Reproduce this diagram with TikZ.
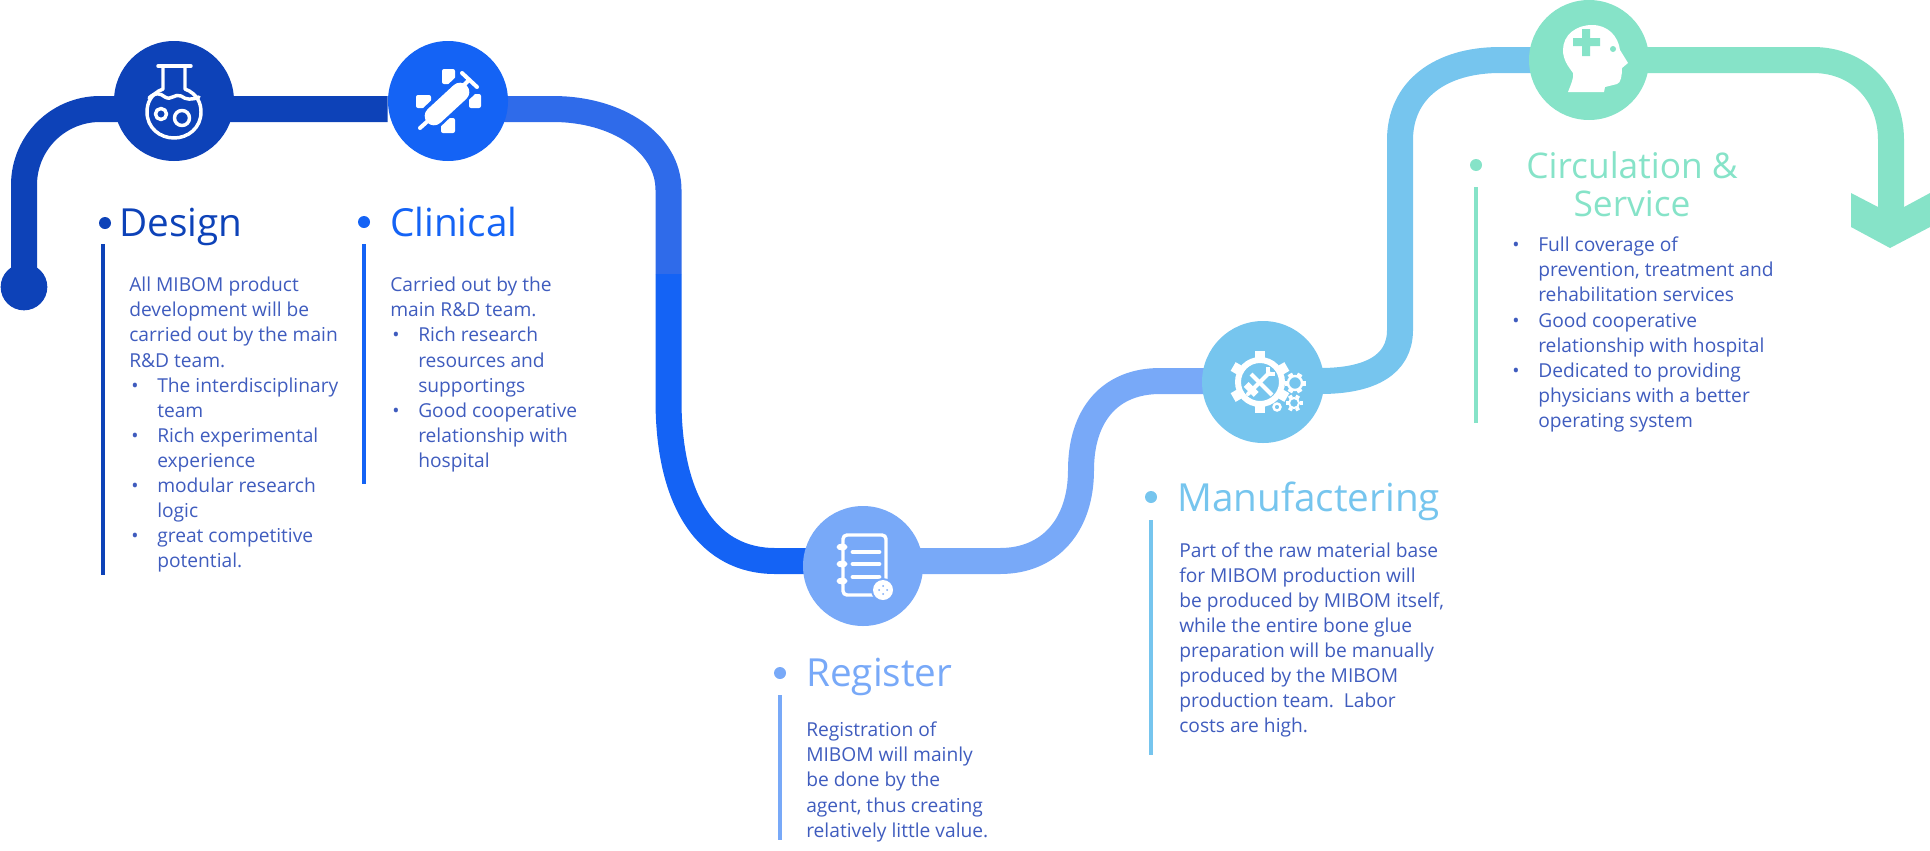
\documentclass[tikz,border=0pt]{standalone}
\usepackage{fontspec}
\setmainfont{Open Sans}
\usetikzlibrary{backgrounds}
\definecolor{cDesign}{HTML}{0D42B8}
\definecolor{cClin}{HTML}{1463F5}
\definecolor{cClinB}{HTML}{2F6BEA}
\definecolor{cReg}{HTML}{78A9F8}
\definecolor{cMan}{HTML}{76C5EE}
\definecolor{cCirc}{HTML}{86E3C8}
\definecolor{cBody}{HTML}{3F5CBE}
\newcommand\bitem[1]{\hspace*{1.5pt}\makebox[19.5pt][l]{\textbullet}#1}
\newcommand\bcont[1]{\hspace*{21pt}#1}
\newcommand\gearshape[3]{% r outer, hole, tooth halfwidth
  \fill[white,even odd rule] (0,0) circle (#1) (0,0) circle (#2);
  \foreach \a in {30,90,...,330}{\fill[white,rotate=\a] (#1-1,-#3) rectangle (#1+6,#3);}
}
\tikzset{
  x=0.75pt,y=-0.75pt,
  hub/.style={circle,minimum size=90pt,inner sep=0pt,fill=#1},
  band/.style={line width=19.5pt,#1,line cap=butt,line join=round},
  title/.style={font=\fontsize{29}{34}\selectfont,text=#1,inner sep=0pt,anchor=base west},
  dotn/.style={circle,minimum size=9pt,inner sep=0pt,fill=#1},
  body/.style={font=\fontsize{14.4}{18.8}\selectfont,text=cBody,inner sep=0pt,anchor=north west,align=left},
  bar/.style={line width=3pt,#1},
  ic/.style={white,line width=2.6pt,line cap=round,line join=round},
}
\begin{document}
\begin{tikzpicture}
\useasboundingbox (0,0) rectangle (1930,850);
% hubs
\node[hub=cDesign] (design) at (174,101) {};
\node[hub=cClin] (clinical) at (448,101) {};
\node[hub=cReg] (register) at (863,566) {};
\node[hub=cMan,minimum size=91.5pt] (manuf) at (1263,382) {};
\node[hub=cCirc] (circ) at (1589,60) {};
\node[circle,minimum size=35pt,inner sep=0pt,fill=cDesign] (start) at (24,287) {};
\coordinate (split) at (668.5,274);
\coordinate (tip) at (1891,212);
\coordinate (lvlA) at (0,109);
\coordinate (lvlB) at (0,561);
\coordinate (lvlC) at (0,381);
\coordinate (lvlD) at (0,60);
% connectors
\begin{pgfonlayer}{background}
\draw[band=cDesign] (start.center) -- (24,185) .. controls (24,143) and (58,109) .. (100,109) -- (clinical.west |- lvlA);
\draw[band=cClinB] (clinical.center |- lvlA) -- (553,109) .. controls (617,109) and (668.5,143) .. (668.5,190) -- (split);
\draw[band=cClin] (split) -- (668.5,400) .. controls (668.5,505) and (710,561) .. (775,561) -- (register.center |- lvlB);
\draw[band=cReg] (register.center |- lvlB) -- (1000,561) .. controls (1050,561) and (1081,525) .. (1081,470) .. controls (1081,415) and (1110,381) .. (1160,381) -- (manuf.center |- lvlC);
\draw[band=cMan] (manuf.center |- lvlC) -- (1320,381) .. controls (1370,381) and (1400,365) .. (1400,330) -- (1400,140) .. controls (1400,90) and (1440,60) .. (1500,60) -- (circ.center |- lvlD);
\draw[band=cCirc] (circ.center |- lvlD) -- (1813,60) .. controls (1860,60) and (1891,95) .. (1891,140) -- (tip);
\end{pgfonlayer}
\fill[cCirc] (1851,193) -- (1878,207) -- (1904,207) -- (1930,193) -- (1930,227) -- (1890,248) -- (1851,227) -- cycle;
% flask icon
\begin{scope}
\draw[ic] (158,66) -- (191,66);
\draw[ic] (163,66) -- (163,89) .. controls (150,94) and (147,104) .. (147,112) .. controls (147,128) and (160,138) .. (174,138) .. controls (188,138) and (201,128) .. (201,112) .. controls (201,104) and (198,94) .. (185,89) -- (185,66);
\draw[ic] (149,98) .. controls (155,92) and (160,93) .. (165,97) .. controls (171,101) and (175,93) .. (181,96) .. controls (186,100) and (192,100) .. (199,97);
\draw[ic] (161,114) circle (5.5);
\draw[ic] (182,118) circle (7.5);
\end{scope}
% syringe and cross icon
\begin{scope}
\fill[white,rounded corners=1.5pt] (442,69) rectangle (455,84) (416,95) rectangle (431,108) (469,94) rectangle (481,108) (441,118) rectangle (455,133);
\draw[cClin,line width=19pt] (466,85) -- (428,121);
\draw[white,line width=14pt,line cap=round] (460,92) -- (434,116);
\draw[white,line width=3pt,line cap=round] (430,119) -- (420,128);
\draw[white,line width=3pt,line cap=round] (469,80) -- (464,85) (462,73) -- (477,87);
\end{scope}
% notebook icon
\begin{scope}
\draw[ic,rounded corners=3pt] (843,535) rectangle (886,595);
\foreach \y in {547,564,581}{\fill[white] (842,\y) ellipse (5.5 and 3.5);}
\foreach \y in {552,564,577}{\draw[white,line width=3.6pt,line cap=round] (853,\y) -- (879,\y);}
\fill[cReg] (883,590) circle (12);
\fill[white] (883,590) circle (10);
\foreach \dx/\dy in {-4/0,4/0,0/-4,0/4}{\fill[cReg] (883+\dx,590+\dy) circle (1);}
\end{scope}
% gears icon
\begin{scope}[shift={(1260,382)}]
\gearshape{25}{19}{5}
\draw[white,line width=3pt] (-9,-8) -- (12,13);
\fill[white,rotate=45] (-15,-8) rectangle (-8,6);
\draw[white,line width=3pt,line cap=round] (-12,12) -- (9,-9);
\draw[white,line width=2.6pt] (8,-15) -- (8,-8) -- (15,-8);
\end{scope}
\begin{scope}[shift={(1295,383)}]
\foreach \a in {0,60,...,300}{\fill[white,rotate=\a] (7,-2.5) rectangle (10.5,2.5);}
\draw[white,line width=1.8pt] (0,0) circle (7);
\end{scope}
\begin{scope}[shift={(1294,403)}]
\foreach \a in {0,60,...,300}{\fill[white,rotate=\a] (5.5,-2) rectangle (8.5,2);}
\draw[white,line width=1.5pt] (0,0) circle (5);
\end{scope}
\begin{scope}[shift={(1277,407)}]
\draw[white,line width=1.8pt] (0,0) circle (3.5);
\end{scope}
% head icon
\begin{scope}
\fill[white] (1568,92) .. controls (1571,84) and (1574,78) .. (1573,73) .. controls (1568,66) and (1563,60) .. (1563,50) .. controls (1563,35) and (1576,25) .. (1592,25) .. controls (1608,25) and (1618,36) .. (1620,50) -- (1628,63) -- (1622,68) .. controls (1622,75) and (1621,83) .. (1617,84) -- (1605,87) -- (1604,92) -- cycle;
\fill[cCirc] (1582,29) rectangle (1590,56) (1573,38) rectangle (1600,46);
\fill[cCirc] (1613,49) circle (3);
\end{scope}
% Design text
\node[dotn=cDesign] (dd) at (105,223) {};
\node[title=cDesign] (td) at (119,236) {Design};
\coordinate (bd1) at (103,244); \coordinate (bd2) at (103,575);
\draw[bar=cDesign] (bd1) -- (bd2);
\node[body] (xd) at (129,274) {\strut All MIBOM product\\development will be\\carried out by the main\\R\&D team.\\\bitem{The interdisciplinary}\\\bcont{team}\\\bitem{Rich experimental}\\\bcont{experience}\\\bitem{modular research}\\\bcont{logic}\\\bitem{great competitive}\\\bcont{potential.}};
% Clinical text
\node[dotn=cClin] (dc) at (364,222) {};
\node[title=cClin] (tc) at (390,236) {Clinical};
\coordinate (bc1) at (364,244); \coordinate (bc2) at (364,484);
\draw[bar=cClin] (bc1) -- (bc2);
\node[body] (xc) at (390,274) {\strut Carried out by the\\main R\&D team.\\\bitem{Rich research}\\\bcont{resources and}\\\bcont{supportings}\\\bitem{Good cooperative}\\\bcont{relationship with}\\\bcont{hospital}};
% Register text
\node[dotn=cReg] (dr) at (780,673) {};
\node[title=cReg] (tr) at (806,686) {Register};
\coordinate (br1) at (780,695); \coordinate (br2) at (780,840);
\draw[bar=cReg] (br1) -- (br2);
\node[body] (xr) at (806,719) {\strut Registration of\\MIBOM will mainly\\be done by the\\agent, thus creating\\relatively little value.};
% Manufacturing text
\node[dotn=cMan] (dm) at (1151,497) {};
\node[title=cMan] (tm) at (1177,511) {Manufactering};
\coordinate (bm1) at (1151,520); \coordinate (bm2) at (1151,755);
\draw[bar=cMan] (bm1) -- (bm2);
\node[body] (xm) at (1179,539.5) {\strut Part of the raw material base\\for MIBOM production will\\be produced by MIBOM itself,\\while the entire bone glue\\preparation will be manually\\produced by the MIBOM\\production team.\ \ Labor\\costs are high.};
% Circulation text
\node[dotn=cCirc] (dz) at (1476,165) {};
\node[font=\fontsize{26.5}{28.6}\selectfont,text=cCirc,inner sep=0pt,align=center] (tz) at (1632,184) {Circulation \&\\Service};
\coordinate (bz1) at (1476,187); \coordinate (bz2) at (1476,423);
\draw[bar=cCirc] (bz1) -- (bz2);
\node[body] (xz) at (1510,234) {\strut\bitem{Full coverage of}\\\bcont{prevention, treatment and}\\\bcont{rehabilitation services}\\\bitem{Good cooperative}\\\bcont{relationship with hospital}\\\bitem{Dedicated to providing}\\\bcont{physicians with a better}\\\bcont{operating system}};
\end{tikzpicture}
\end{document}
